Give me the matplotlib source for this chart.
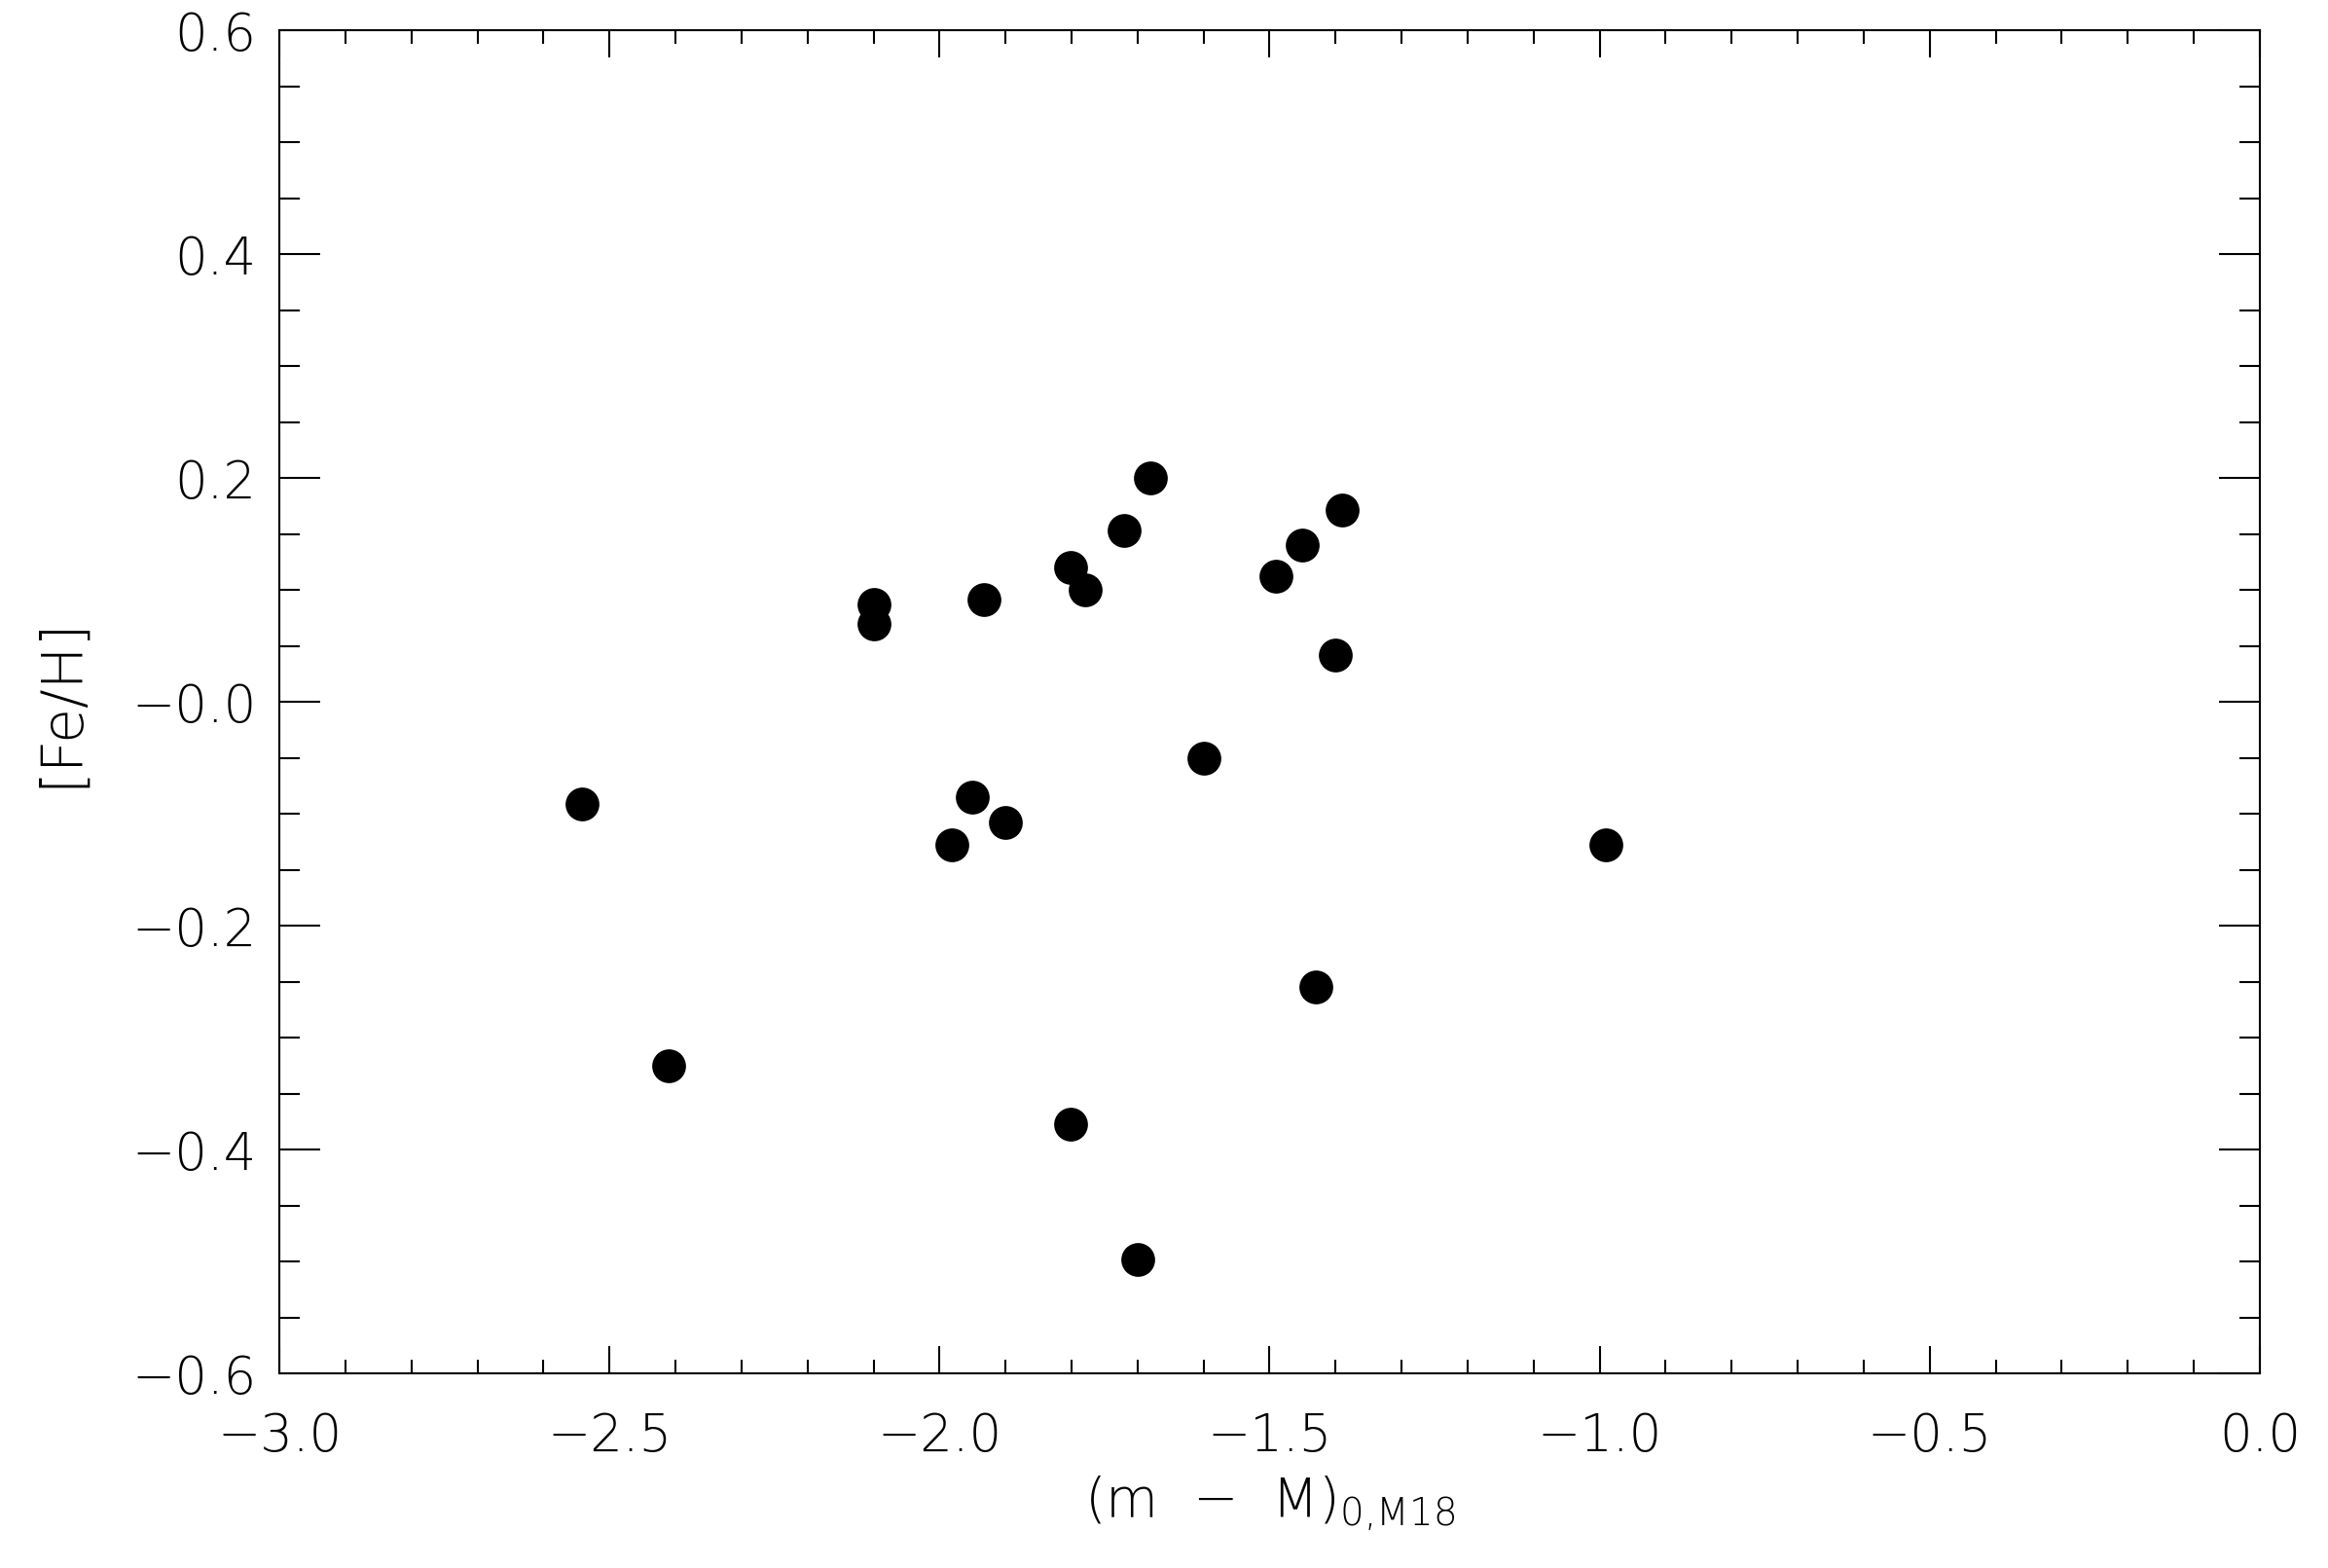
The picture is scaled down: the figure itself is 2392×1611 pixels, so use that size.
import numpy as np
import matplotlib
matplotlib.use("Agg")
import matplotlib.pyplot as plt
from matplotlib.ticker import MultipleLocator, FixedLocator, FixedFormatter


# -------------------------------------------------
# Data
# -------------------------------------------------
dist_mod = [-2.541, -2.411, -2.100, -2.100, -1.932, -1.981, -1.950, -1.900,
            -1.801, -1.779, -1.720, -1.680, -1.801, -1.700, -1.599, -1.491,
            -1.451, -1.390, -1.401, -1.430, -0.990]
feh = [-0.091, -0.325, 0.087, 0.070, 0.091, -0.128, -0.085, -0.108,
       0.120, 0.100, 0.153, 0.200, -0.377, -0.498, -0.050, 0.112,
       0.140, 0.171, 0.042, -0.255, -0.128]

xticks = [-3.0, -2.5, -2.0, -1.5, -1.0, -0.5, 0.0]
xtick_labels = ["\u22123.0", "\u22122.5", "\u22122.0", "\u22121.5", "\u22121.0", "\u22120.5", "0.0"]
yticks = [0.6, 0.4, 0.2, 0.0, -0.2, -0.4, -0.6]
ytick_labels = ["0.6", "0.4", "0.2", "\u22120.0", "\u22120.2", "\u22120.4", "\u22120.6"]


# -------------------------------------------------
# Style: thin sans to mimic the IDL vector font
# -------------------------------------------------
plt.rcParams["font.family"] = ["DejaVu Sans"]
plt.rcParams["font.weight"] = "light"
plt.rcParams["axes.labelweight"] = "light"
plt.rcParams["mathtext.fontset"] = "custom"
plt.rcParams["mathtext.rm"] = "DejaVu Sans:light"
plt.rcParams["mathtext.it"] = "DejaVu Sans:light"

fig = plt.figure(figsize=(23.92, 16.11), dpi=100)
ax = fig.add_axes([0.12, 0.1241, 0.8507, 0.8566])

ax.plot(dist_mod, feh, linestyle="none", marker="o", markersize=25,
        color="black", markeredgewidth=0)

ax.set_xlim(-3.0, 0.0)
ax.set_ylim(-0.6, 0.6)

ax.xaxis.set_major_locator(FixedLocator(xticks))
ax.xaxis.set_major_formatter(FixedFormatter(xtick_labels))
ax.xaxis.set_minor_locator(MultipleLocator(0.1))
ax.yaxis.set_major_locator(FixedLocator(yticks))
ax.yaxis.set_major_formatter(FixedFormatter(ytick_labels))
ax.yaxis.set_minor_locator(MultipleLocator(0.05))

ax.tick_params(axis="both", which="both", direction="in", top=True, right=True,
               width=1.5, color="black", labelsize=38)
ax.tick_params(axis="x", which="major", length=20, pad=28)
ax.tick_params(axis="x", which="minor", length=10)
ax.tick_params(axis="y", which="major", length=30, pad=17)
ax.tick_params(axis="y", which="minor", length=15)

for s in ax.spines.values():
    s.set_linewidth(1.5)

ax.set_xlabel("(m  \u2212  M)$_{\\rm 0{,}M18}$", fontsize=40, va="top")
ax.xaxis.set_label_coords(0.5, -0.075)
ax.set_ylabel("[Fe/H]", fontsize=42)
ax.yaxis.set_label_coords(-0.096, 0.5)

fig.savefig("out.png", dpi=100)
